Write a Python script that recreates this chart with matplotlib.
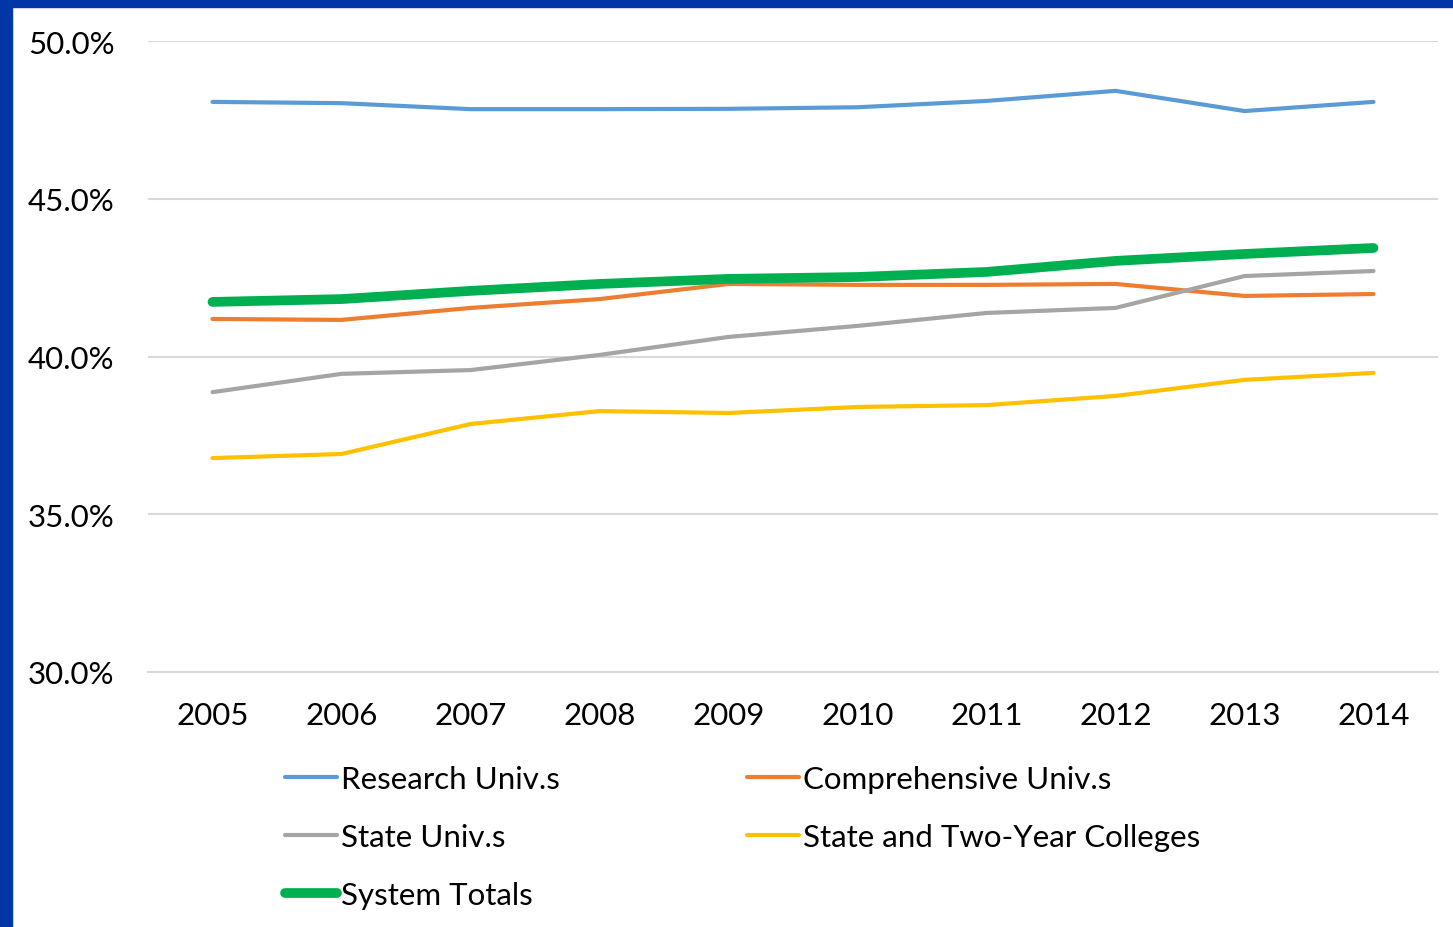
import matplotlib.pyplot as plt
from matplotlib.ticker import PercentFormatter
from matplotlib.patches import Rectangle

plt.rcParams['font.family'] = ['Lato', 'DejaVu Sans']

years = ['2005', '2006', '2007', '2008', '2009', '2010', '2011', '2012', '2013', '2014']
research = [48.07, 48.03, 47.84, 47.84, 47.85, 47.90, 48.10, 48.42, 47.78, 48.07]
comprehensive = [41.19, 41.16, 41.54, 41.82, 42.30, 42.27, 42.27, 42.30, 41.92, 41.98]
state = [38.87, 39.45, 39.57, 40.05, 40.62, 40.97, 41.38, 41.54, 42.55, 42.71]
state_two_year = [36.78, 36.91, 37.86, 38.27, 38.21, 38.40, 38.46, 38.75, 39.26, 39.48]
system = [41.73, 41.82, 42.08, 42.30, 42.46, 42.52, 42.68, 43.03, 43.25, 43.44]

fig = plt.figure(figsize=(14.53, 9.28), dpi=100)
ax = fig.add_axes([148 / 1453, 1 - 673 / 928, 1290 / 1453, 631 / 928])

x = range(len(years))
l1, = ax.plot(x, research, color='#5B9BD5', lw=3, label='Research Univ.s', solid_capstyle='round')
l2, = ax.plot(x, comprehensive, color='#ED7D31', lw=3, label='Comprehensive Univ.s', solid_capstyle='round')
l3, = ax.plot(x, state, color='#A5A5A5', lw=3, label='State Univ.s', solid_capstyle='round')
l4, = ax.plot(x, state_two_year, color='#FFC000', lw=3, label='State and Two-Year Colleges', solid_capstyle='round')
l5, = ax.plot(x, system, color='#00B050', lw=7, label='System Totals', solid_capstyle='round')

ax.set_xlim(-0.5, len(years) - 0.5)
ax.set_ylim(30, 50)
ax.set_yticks([30, 35, 40, 45, 50])
ax.yaxis.set_major_formatter(PercentFormatter(decimals=1))
ax.set_xticks(list(x))
ax.set_xticklabels(years)
ax.grid(axis='y', color='#D9D9D9', lw=1.5)
ax.set_axisbelow(True)
for s in ['top', 'right', 'left']:
    ax.spines[s].set_visible(False)
ax.spines['bottom'].set_color('#D9D9D9')
ax.spines['bottom'].set_linewidth(1.5)
ax.tick_params(length=0, labelsize=22.5, colors='black')
ax.tick_params(axis='x', pad=21)
ax.tick_params(axis='y', pad=24)

fig.legend([l1, l3, l5, l2, l4], [h.get_label() for h in [l1, l3, l5, l2, l4]],
           ncol=2, loc='upper left', bbox_to_anchor=(285 / 1453, 1 - 766 / 928),
           frameon=False, fontsize=22.5, handlelength=1.66, handletextpad=0.13,
           columnspacing=6.0, labelspacing=0.96, borderpad=0, borderaxespad=0)

# blue frame on top and left
fig.patches.append(Rectangle((0, 1 - 8 / 928), 1, 8 / 928, transform=fig.transFigure, color='#0036A6'))
fig.patches.append(Rectangle((0, 0), 12 / 1453, 1, transform=fig.transFigure, color='#0036A6'))

fig.savefig('out.png', dpi=100)
